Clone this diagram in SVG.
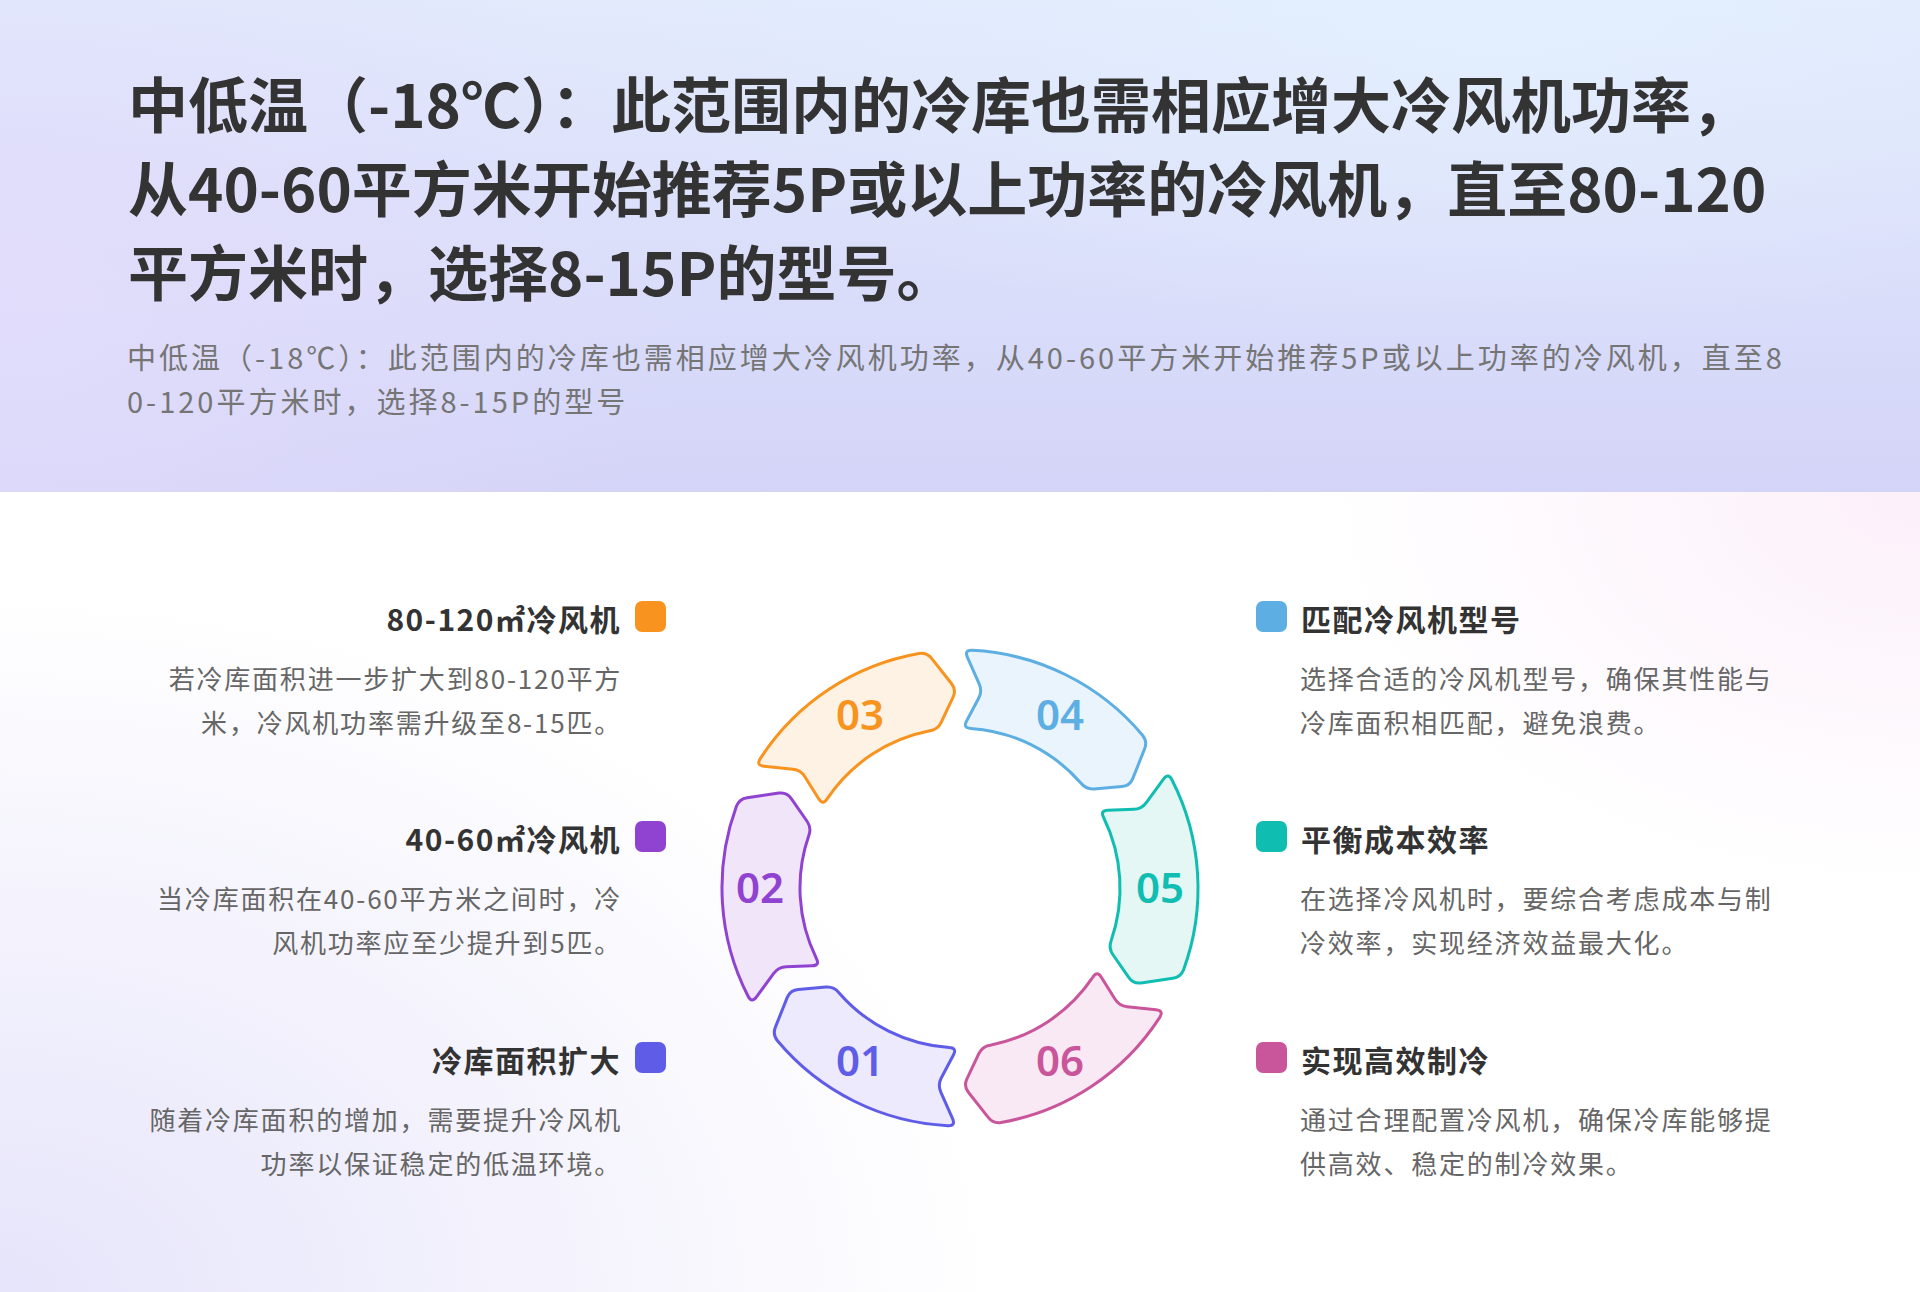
<svg xmlns="http://www.w3.org/2000/svg" xmlns:xlink="http://www.w3.org/1999/xlink" width="1920" height="1292" viewBox="0 0 1920 1292">
<style>
.cjk{font-family:"Noto Sans CJK SC","Noto Sans",sans-serif}
.title{font-size:60px;font-weight:700;fill:#333333}
.sub{font-size:29px;font-weight:400;fill:#757575;letter-spacing:3px}
.itl{font-size:30px;font-weight:700;fill:#333333;letter-spacing:1.5px}
.desc{font-size:26px;font-weight:400;fill:#666666;letter-spacing:1.8px}
.num{font-family:"Noto Sans","Open Sans",sans-serif;font-size:42px;font-weight:600;text-anchor:middle}
.seg{stroke-width:3;stroke-linejoin:round}
</style>
<defs>
<linearGradient id="hdr" x1="0" y1="0" x2="0" y2="1">
<stop offset="0" stop-color="#E2EAFC"/>
<stop offset="1" stop-color="#D4D4F8"/>
</linearGradient>
<radialGradient id="hdrTL" cx="0" cy="0" r="1" gradientUnits="userSpaceOnUse" gradientTransform="translate(0 300) scale(700 450)">
<stop offset="0" stop-color="#E2DCFB" stop-opacity="0.9"/>
<stop offset="1" stop-color="#E2DCFB" stop-opacity="0"/>
</radialGradient>
<radialGradient id="hdrTR" cx="0" cy="0" r="1" gradientUnits="userSpaceOnUse" gradientTransform="translate(1500 0) scale(900 350)">
<stop offset="0" stop-color="#E3EFFE" stop-opacity="0.9"/>
<stop offset="1" stop-color="#E3EFFE" stop-opacity="0"/>
</radialGradient>
<radialGradient id="bodyBL" cx="0" cy="0" r="1" gradientUnits="userSpaceOnUse" gradientTransform="translate(0 1292) scale(1000 700)">
<stop offset="0" stop-color="#E6E4FA"/>
<stop offset="1" stop-color="#E6E4FA" stop-opacity="0"/>
</radialGradient>
<radialGradient id="bodyTR" cx="0" cy="0" r="1" gradientUnits="userSpaceOnUse" gradientTransform="translate(1920 492) scale(600 400)">
<stop offset="0" stop-color="#FCF0FA"/>
<stop offset="1" stop-color="#FCF0FA" stop-opacity="0"/>
</radialGradient>
<path id="seg" d="M 211.9 -108.3 A 238 238 0 0 1 223.6 81.7 Q 220.7 89.2 212.8 90.3 L 181.1 94.9 Q 173.2 96.0 168.7 89.4 L 152.8 66.5 Q 148.3 59.9 151.2 52.5 A 160 160 0 0 0 143.6 -70.5 Q 139.9 -77.6 147.9 -77.8 L 173.6 -78.7 Q 181.6 -78.9 186.3 -85.4 L 203.5 -108.9 Q 208.2 -115.4 211.9 -108.3 Z"/>
</defs>

<g id="background">
<rect x="0" y="0" width="1920" height="1292" fill="#FFFFFF"/>
<rect x="0" y="492" width="1920" height="800" fill="url(#bodyBL)"/>
<rect x="0" y="492" width="1920" height="800" fill="url(#bodyTR)"/>
<rect x="0" y="0" width="1920" height="492" fill="url(#hdr)"/>
<rect x="0" y="0" width="1920" height="492" fill="url(#hdrTL)"/>
<rect x="0" y="0" width="1920" height="492" fill="url(#hdrTR)"/>
</g>

<g id="header" class="cjk">
<text class="title" x="128" y="128">中低温（-18℃）：此范围内的冷库也需相应增大冷风机功率，</text>
<text class="title" x="128" y="212">从40-60平方米开始推荐5P或以上功率的冷风机，直至80-120</text>
<text class="title" x="128" y="296">平方米时，选择8-15P的型号。</text>
<text class="sub" x="127" y="369">中低温（-18℃）：此范围内的冷库也需相应增大冷风机功率，从40-60平方米开始推荐5P或以上功率的冷风机，直至8</text>
<text class="sub" x="127" y="413">0-120平方米时，选择8-15P的型号</text>
</g>

<g id="connectors"/>

<g id="node-01">
<use xlink:href="#seg" href="#seg" class="seg" transform="translate(960 888) rotate(120)" fill="#ECEAFC" stroke="#5F5CE8"/>
<text class="num" x="860" y="1076" fill="#5F5CE8">01</text>
</g>
<g id="node-02">
<use xlink:href="#seg" href="#seg" class="seg" transform="translate(960 888) rotate(180)" fill="#F1E6F9" stroke="#9043D0"/>
<text class="num" x="760" y="903" fill="#9043D0">02</text>
</g>
<g id="node-03">
<use xlink:href="#seg" href="#seg" class="seg" transform="translate(960 888) rotate(240)" fill="#FEF2E4" stroke="#F7931E"/>
<text class="num" x="860" y="730" fill="#F7931E">03</text>
</g>
<g id="node-04">
<use xlink:href="#seg" href="#seg" class="seg" transform="translate(960 888) rotate(300)" fill="#EAF4FC" stroke="#5DAEE2"/>
<text class="num" x="1060" y="730" fill="#5DAEE2">04</text>
</g>
<g id="node-05">
<use xlink:href="#seg" href="#seg" class="seg" transform="translate(960 888) rotate(0)" fill="#E4F7F5" stroke="#10BDB1"/>
<text class="num" x="1160" y="903" fill="#10BDB1">05</text>
</g>
<g id="node-06">
<use xlink:href="#seg" href="#seg" class="seg" transform="translate(960 888) rotate(60)" fill="#F9E9F4" stroke="#C9559A"/>
<text class="num" x="1060" y="1076" fill="#C9559A">06</text>
</g>

<g id="item-03" class="cjk">
<rect x="635" y="601" width="31" height="31" rx="7" fill="#F7931E"/>
<text class="itl" x="621" y="631" text-anchor="end">80-120㎡冷风机</text>
<text class="desc" x="622" y="689" text-anchor="end">若冷库面积进一步扩大到80-120平方</text>
<text class="desc" x="622" y="733" text-anchor="end">米，冷风机功率需升级至8-15匹。</text>
</g>
<g id="item-02" class="cjk">
<rect x="635" y="821" width="31" height="31" rx="7" fill="#9043D0"/>
<text class="itl" x="621" y="851" text-anchor="end">40-60㎡冷风机</text>
<text class="desc" x="622" y="909" text-anchor="end">当冷库面积在40-60平方米之间时，冷</text>
<text class="desc" x="622" y="953" text-anchor="end">风机功率应至少提升到5匹。</text>
</g>
<g id="item-01" class="cjk">
<rect x="635" y="1042" width="31" height="31" rx="7" fill="#5F5CE8"/>
<text class="itl" x="621" y="1072" text-anchor="end">冷库面积扩大</text>
<text class="desc" x="622" y="1130" text-anchor="end">随着冷库面积的增加，需要提升冷风机</text>
<text class="desc" x="622" y="1174" text-anchor="end">功率以保证稳定的低温环境。</text>
</g>
<g id="item-04" class="cjk">
<rect x="1256" y="601" width="31" height="31" rx="7" fill="#5DAEE2"/>
<text class="itl" x="1301" y="631">匹配冷风机型号</text>
<text class="desc" x="1300" y="689">选择合适的冷风机型号，确保其性能与</text>
<text class="desc" x="1300" y="733">冷库面积相匹配，避免浪费。</text>
</g>
<g id="item-05" class="cjk">
<rect x="1256" y="821" width="31" height="31" rx="7" fill="#10BDB1"/>
<text class="itl" x="1301" y="851">平衡成本效率</text>
<text class="desc" x="1300" y="909">在选择冷风机时，要综合考虑成本与制</text>
<text class="desc" x="1300" y="953">冷效率，实现经济效益最大化。</text>
</g>
<g id="item-06" class="cjk">
<rect x="1256" y="1042" width="31" height="31" rx="7" fill="#C9559A"/>
<text class="itl" x="1301" y="1072">实现高效制冷</text>
<text class="desc" x="1300" y="1130">通过合理配置冷风机，确保冷库能够提</text>
<text class="desc" x="1300" y="1174">供高效、稳定的制冷效果。</text>
</g>
</svg>
